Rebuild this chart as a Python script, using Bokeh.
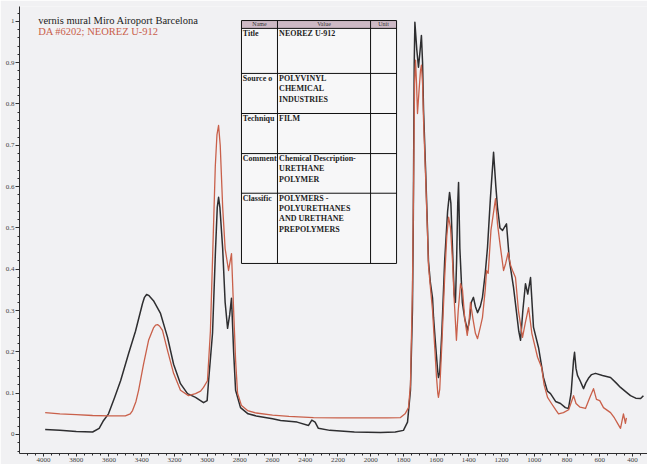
from bokeh.plotting import figure
from bokeh.models import Range1d, FixedTicker
from bokeh.core.properties import value
from bokeh.embed import file_html
from bokeh.resources import INLINE

# ---------------- data ----------------
black_wn = [3990, 3900, 3800, 3700, 3660, 3633, 3603, 3565, 3529, 3480, 3438, 3395, 3383, 3370, 3355, 3328,
            3285, 3242, 3205, 3163, 3120, 3071, 3022, 3000, 2991, 2967, 2949, 2938, 2930, 2922, 2905,
            2890, 2875, 2862, 2851, 2838, 2826, 2796, 2750, 2700, 2600, 2551, 2450, 2380, 2360,
            2340, 2320, 2250, 2100, 1940, 1850, 1800, 1775, 1757, 1745, 1740, 1734, 1730, 1718,
            1708, 1698, 1690, 1683, 1677, 1665, 1653, 1647, 1636, 1622, 1616, 1604, 1592, 1586,
            1578, 1565, 1548, 1530, 1518, 1510, 1500, 1490, 1482, 1475, 1468, 1463, 1455, 1440,
            1425, 1408, 1395, 1385, 1372, 1360, 1347, 1330, 1317, 1300, 1286, 1268, 1249, 1235,
            1225, 1210, 1194, 1170, 1152, 1127, 1110, 1095, 1084, 1070, 1054, 1040, 1023, 1005,
            974, 944, 920, 901, 870, 840, 810, 791, 775, 760, 754, 745, 736, 720, 699, 685, 669,
            650, 626, 583, 534, 500, 473, 440, 412, 380, 350, 333]
black_abs = [0.012, 0.010, 0.007, 0.006, 0.015, 0.034, 0.05, 0.09, 0.13, 0.196, 0.25, 0.317, 0.332, 0.339, 0.336, 0.324,
             0.293, 0.235, 0.17, 0.123, 0.099, 0.09, 0.077, 0.082, 0.13, 0.245, 0.445, 0.55, 0.574, 0.55, 0.45,
             0.32, 0.257, 0.29, 0.33, 0.2, 0.107, 0.065, 0.05, 0.045, 0.038, 0.034, 0.03, 0.022, 0.035,
             0.03, 0.015, 0.01, 0.006, 0.005, 0.006, 0.01, 0.03, 0.107, 0.3, 0.5, 0.9, 0.998, 0.93,
             0.889, 0.93, 0.966, 0.9, 0.785, 0.647, 0.5, 0.42, 0.37, 0.33, 0.284, 0.22, 0.16, 0.138,
             0.15, 0.25, 0.42, 0.54, 0.586, 0.56, 0.45, 0.34, 0.32, 0.42, 0.56, 0.61, 0.45, 0.32,
             0.28, 0.252, 0.28, 0.32, 0.332, 0.31, 0.295, 0.31, 0.332, 0.39, 0.453, 0.574, 0.683, 0.6,
             0.55, 0.5, 0.494, 0.51, 0.42, 0.356, 0.3, 0.25, 0.228, 0.3, 0.365, 0.34, 0.38, 0.26,
             0.21, 0.138, 0.105, 0.099, 0.08, 0.075, 0.065, 0.063, 0.1, 0.18, 0.199, 0.16, 0.143, 0.13, 0.111, 0.125, 0.136,
             0.145, 0.148, 0.143, 0.138, 0.125, 0.114, 0.103, 0.094, 0.088, 0.087, 0.094]

red_wn = [3990, 3900, 3800, 3700, 3600, 3500, 3470, 3456, 3435, 3419, 3389, 3358, 3328, 3315, 3303, 3290,
          3273, 3242, 3205, 3163, 3114, 3071, 3040, 3022, 2998, 2980, 2965, 2950, 2940, 2930,
          2920, 2905, 2890, 2869, 2851, 2838, 2826, 2814, 2790, 2753, 2700, 2600, 2500, 2350,
          2200, 2000, 1900, 1818, 1790, 1769, 1757, 1745, 1738, 1732, 1726, 1720, 1714, 1705,
          1696, 1690, 1683, 1677, 1665, 1653, 1647, 1636, 1622, 1610, 1598, 1590, 1586, 1578,
          1565, 1548, 1535, 1524, 1512, 1500, 1490, 1476, 1465, 1451, 1439, 1425, 1410, 1400,
          1390, 1375, 1360, 1347, 1330, 1317, 1300, 1292, 1282, 1265, 1237, 1225, 1210, 1188,
          1175, 1160, 1145, 1133, 1115, 1097, 1072, 1055, 1035, 1015, 980, 955, 940, 919, 895,
          870, 852, 822, 790, 760, 745, 720, 687, 660, 638, 620, 600, 577, 534, 510, 491, 473,
          455, 443, 437]
red_abs = [0.053, 0.05, 0.048, 0.046, 0.045, 0.045, 0.05, 0.058, 0.08, 0.107, 0.17, 0.228, 0.258, 0.265, 0.266, 0.262,
           0.252, 0.203, 0.148, 0.107, 0.094, 0.099, 0.105, 0.114, 0.13, 0.25, 0.45, 0.65, 0.725, 0.748,
           0.7, 0.55, 0.45, 0.397, 0.438, 0.3, 0.18, 0.1, 0.07, 0.058, 0.052, 0.047, 0.044, 0.041,
           0.04, 0.04, 0.04, 0.041, 0.05, 0.065, 0.12, 0.35, 0.6, 0.85, 0.906, 0.85, 0.777, 0.83,
           0.88, 0.894, 0.85, 0.76, 0.63, 0.49, 0.41, 0.36, 0.3, 0.22, 0.14, 0.1, 0.09, 0.11,
           0.22, 0.38, 0.48, 0.526, 0.5, 0.42, 0.33, 0.228, 0.3, 0.365, 0.35, 0.28, 0.24, 0.269,
           0.32, 0.28, 0.245, 0.232, 0.26, 0.283, 0.35, 0.397, 0.39, 0.494, 0.571, 0.51, 0.462, 0.397,
           0.414, 0.44, 0.41, 0.397, 0.38, 0.3, 0.235, 0.27, 0.307, 0.245, 0.187, 0.162, 0.12, 0.09, 0.075,
           0.06, 0.05, 0.053, 0.06, 0.094, 0.075, 0.066, 0.063, 0.09, 0.111, 0.085, 0.082, 0.065, 0.053, 0.04, 0.027, 0.015,
           0.05, 0.027, 0.04]

series_names = ["vernis mural Miro Airoport Barcelona", "DA #6202; NEOREZ U-912"]
x_ticks = [4000, 3800, 3600, 3400, 3200, 3000, 2800, 2600, 2400, 2200, 2000,
           1800, 1600, 1400, 1200, 1000, 800, 600, 400]
y_ticks = [0, 0.1, 0.2, 0.3, 0.4, 0.5, 0.6, 0.7, 0.8, 0.9, 1.0]
y_tick_labels = ["0", "0.1", "0.2", "0.3", "0.4", "0.5", "0.6", "0.7", "0.8", "0.9", "1"]

table_header = ["Name", "Value", "Unit"]
table_names = ["Title", "Source o", "Techniqu", "Comment", "Classific"]
table_values = ["NEOREZ U-912",
                "POLYVINYL\nCHEMICAL\nINDUSTRIES",
                "FILM",
                "Chemical Description-\nURETHANE\nPOLYMER",
                "POLYMERS -\nPOLYURETHANES\nAND URETHANE\nPREPOLYMERS"]

# ---------------- figure ----------------
BG = "#f1f1f3"
BLACK = "#2e2e30"
RED = "#c9604a"

p = figure(width=647, height=464, output_backend="svg", toolbar_location=None,
           x_range=Range1d(4147, 308), y_range=Range1d(-0.046, 1.036),
           min_border_left=19, min_border_right=0, min_border_top=6, min_border_bottom=10,
           background_fill_color=BG, border_fill_color=BG, outline_line_color=None)
p.grid.visible = False

p.line(black_wn, black_abs, line_color=BLACK, line_width=1.5, line_join="round")
p.line(red_wn, red_abs, line_color=RED, line_width=1.3, line_join="round")

# axes
minor_x = [v for v in range(4100, 300, -50) if v % 200 != 0]
p.xaxis.ticker = FixedTicker(ticks=x_ticks, minor_ticks=minor_x)
minor_y = [round(-0.04 + 0.02 * i, 2) for i in range(54)]
p.yaxis.ticker = FixedTicker(ticks=y_ticks, minor_ticks=minor_y)
p.yaxis.major_label_overrides = {t: l for t, l in zip(y_ticks, y_tick_labels)}
for ax in (p.xaxis, p.yaxis):
    ax.axis_line_color = BLACK
    ax.major_tick_line_color = BLACK
    ax.minor_tick_line_color = BLACK
    ax.major_label_text_font = "Liberation Serif"
    ax.major_label_text_font_size = "7px"
    ax.major_label_text_color = "#444444"
    ax.major_label_standoff = 1
p.xaxis.major_tick_out = 3
p.xaxis.major_tick_in = 0
p.xaxis.minor_tick_out = 2
p.xaxis.minor_tick_in = 0
p.yaxis.major_tick_out = 4
p.yaxis.major_tick_in = 0
p.yaxis.minor_tick_out = 2
p.yaxis.minor_tick_in = 0

# series labels (legend-like texts at top left)
p.text(x=[4033], y=[1.003], text=[series_names[0]], text_font=value("Liberation Serif"),
       text_font_size="10.5px", text_color="#222222", text_baseline="middle")
p.text(x=[4033], y=[0.976], text=[series_names[1]], text_font=value("Liberation Serif"),
       text_font_size="10.5px", text_color=RED, text_baseline="middle")

# ---------------- info table ----------------
tx = [2790, 2570, 2001, 1842]          # column borders (cm-1)
ty = [1.002, 0.983, 0.874, 0.777, 0.680, 0.584, 0.414]  # row borders (absorbance)
p.quad(left=[tx[0]], right=[tx[3]], top=[ty[0]], bottom=[ty[1]],
       fill_color="#cdb9c5", line_color=None)
p.quad(left=[tx[0]], right=[tx[3]], top=[ty[1]], bottom=[ty[-1]],
       fill_color="#f7f7f8", line_color=None)
p.segment(x0=[tx[0]] * len(ty), x1=[tx[3]] * len(ty), y0=ty, y1=ty,
          line_color="#111111", line_width=1)
p.segment(x0=tx, x1=tx, y0=[ty[0]] * len(tx), y1=[ty[-1]] * len(tx),
          line_color="#111111", line_width=1)
hx = [(tx[0] + tx[1]) / 2, (tx[1] + tx[2]) / 2, (tx[2] + tx[3]) / 2]
p.text(x=hx, y=[(ty[0] + ty[1]) / 2] * 3, text=table_header, text_font=value("Liberation Serif"),
       text_font_size="6px", text_color="#333333", text_align="center", text_baseline="middle")
row_tops = [t - 0.001 for t in ty[1:-1]]
p.text(x=[tx[0] - 8] * 5, y=row_tops, text=table_names, text_font=value("Liberation Serif"),
       text_font_size="8px", text_font_style="bold", text_color="#1e1e1e", text_baseline="top")
p.text(x=[tx[1] - 10] * 5, y=row_tops, text=table_values, text_font=value("Liberation Serif"),
       text_font_size="8px", text_font_style="bold", text_color="#1e1e1e", text_baseline="top",
       text_line_height=1.15)

open("out.html", "w").write(file_html(p, INLINE))
